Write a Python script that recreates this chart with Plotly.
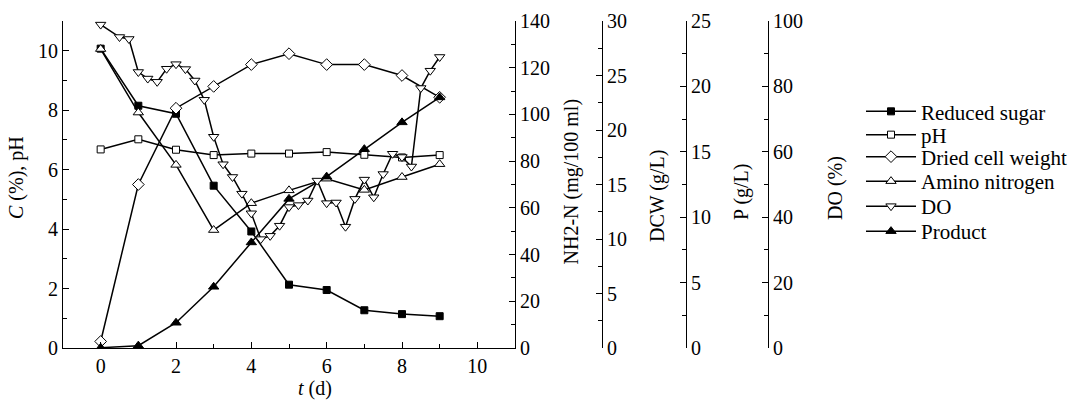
import plotly.graph_objects as go

# ---------------- data ----------------
t_days = [0, 1, 2, 3, 4, 5, 6, 7, 8, 9]
reduced_sugar = [10.07, 8.15, 7.88, 5.46, 3.92, 2.13, 1.95, 1.27, 1.14, 1.07]      # C (%)
ph_values = [6.68, 7.02, 6.67, 6.49, 6.54, 6.54, 6.59, 6.50, 6.41, 6.49]          # pH
dcw_values = [0.6, 15.0, 22.0, 24.0, 26.0, 27.0, 26.0, 26.0, 25.0, 23.0]          # DCW (g/L)
amino_n = [128.0, 100.8, 78.4, 50.5, 62.0, 67.5, 72.5, 67.7, 73.2, 78.7]          # NH2-N (mg/100 ml)
product_p = [0.02, 0.18, 1.93, 4.68, 8.07, 11.4, 13.1, 15.2, 17.25, 19.16]        # P (g/L)

do_t = [0, 0.5, 0.75, 1, 1.25, 1.5, 1.75, 2, 2.25, 2.5, 2.75, 3, 3.25, 3.5, 3.75,
        4, 4.25, 4.5, 4.75, 5, 5.25, 5.5, 5.75, 6, 6.25, 6.5, 6.75, 7, 7.25, 7.5,
        7.75, 8, 8.25, 8.5, 8.75, 9]
do_values = [98.9, 95.1, 94.5, 84.4, 82.4, 81.4, 85.4, 86.8, 85.3, 81.8, 75.9,
             64.6, 56.2, 52.3, 47.2, 41.2, 33.3, 34.3, 37.4, 43.1, 43.7, 45.1,
             51.2, 44.3, 44.5, 37.1, 45.6, 51.5, 46.1, 53.2, 59.4, 58.4, 55.5,
             79.5, 84.8, 89.0]                                                     # DO (%)

# ---------------- style ----------------
FONT = "Liberation Serif, Times New Roman, serif"
FS = 20
W, H = 1077, 400
ML, MR, MT, MB = 63, 0, 21, 52
PW = W - ML - MR
PH = H - MT - MB


def px_x(p):
    return (p - ML) / PW


def px_y(p):
    return (H - MB - p) / PH


line = dict(color="black", width=1.5)
legend_rows = [111.7, 135, 157, 181.5, 206.5, 231.5]

fig = go.Figure()
series = [
    ("Reduced sugar", t_days, reduced_sugar, "y", "square", "black", 7),
    ("pH", t_days, ph_values, "y", "square", "white", 7),
    ("Dried cell weight", t_days, dcw_values, "y3", "diamond", "white", 9),
    ("Amino nitrogen", t_days, amino_n, "y2", "triangle-up", "white", 9),
    ("DO", do_t, do_values, "y5", "triangle-down", "white", 9),
    ("Product", t_days, product_p, "y4", "triangle-up", "black", 9),
]

legends = {}
for i, (name, x, y, axis, symbol, fill, size) in enumerate(series):
    key = "legend" if i == 0 else f"legend{i + 1}"
    fig.add_trace(go.Scatter(
        x=x, y=y, name=name, mode="lines+markers", yaxis=axis, legend=key,
        line=line,
        marker=dict(symbol=symbol, size=size, color=fill,
                    line=dict(color="black", width=1)),
    ))
    legends[key] = dict(x=px_x(861), y=px_y(legend_rows[i]), xanchor="left", yanchor="middle",
                        font=dict(family=FONT, size=21, color="black"),
                        bgcolor="rgba(0,0,0,0)", itemwidth=50)

tickfont = dict(family=FONT, size=FS, color="black")
common = dict(showgrid=False, zeroline=False, showline=True, linecolor="black",
              linewidth=1.2, ticks="inside", ticklen=6, tickwidth=1.2,
              tickcolor="black", tickfont=tickfont)


def minor(d):
    return dict(dtick=d, tick0=0, ticks="inside", ticklen=4, tickwidth=1.2, tickcolor="black")


x_right = px_x(515)

fig.update_layout(
    width=W, height=H,
    margin=dict(l=ML, r=MR, t=MT, b=MB),
    plot_bgcolor="white", paper_bgcolor="white",
    font=dict(family=FONT, size=FS, color="black"),
    showlegend=True,
    xaxis=dict(domain=[0, x_right], range=[-1, 11], dtick=2, tick0=0, minor=minor(1), **common),
    yaxis=dict(range=[0, 11], dtick=2, tick0=0, minor=minor(1), **common),
    yaxis2=dict(range=[0, 140], dtick=20, tick0=0, overlaying="y", anchor="x", side="right",
                minor=minor(10), **common),
    yaxis3=dict(range=[0, 30], dtick=5, tick0=0, overlaying="y", anchor="free",
                position=px_x(602), side="right", minor=minor(2.5), **common),
    yaxis4=dict(range=[0, 25], dtick=5, tick0=0, overlaying="y", anchor="free",
                position=px_x(686), side="right", minor=minor(2.5), **common),
    yaxis5=dict(range=[0, 100], dtick=20, tick0=0, overlaying="y", anchor="free",
                position=px_x(768), side="right", minor=minor(10), **common),
    **legends,
)

titles = [
    ("<i>C</i> (%), pH", 16, 178, -90),
    ("<i>t</i> (d)", 315, 388, 0),
    ("NH2-N (mg/100 ml)", 571, 181.5, -90),
    ("DCW (g/L)", 657, 196, -90),
    ("P (g/L)", 741, 192, -90),
    ("DO (%)", 835, 188, -90),
]
for text, x, y, ang in titles:
    fig.add_annotation(text=text, x=px_x(x), y=px_y(y), xref="paper", yref="paper",
                       xanchor="center", yanchor="middle", textangle=ang,
                       showarrow=False, font=dict(family=FONT, size=FS, color="black"))

fig.write_html("out.html")
